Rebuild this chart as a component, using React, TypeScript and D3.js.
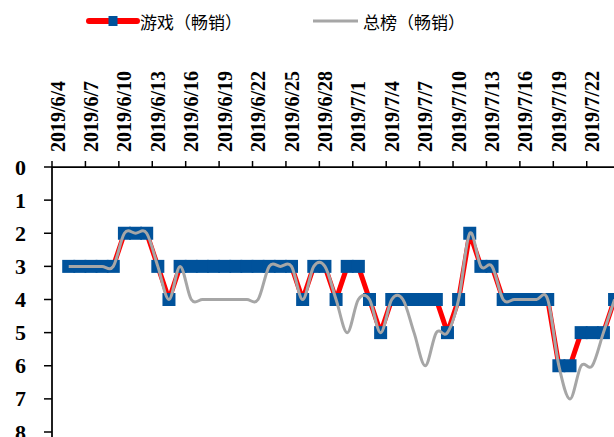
import { useMemo } from "react";
import { scaleBand, scaleLinear, line, curveCardinal, curveLinear, timeDay, timeFormat } from "d3";

//
// categories: every day 2019/6/4 .. 2019/7/24
const DATES = timeDay
  .range(new Date(2019, 5, 4), new Date(2019, 6, 25))
  .map(timeFormat("%Y/%-m/%-d"));
// label every 3rd day
const TICK_LABELS = DATES.filter((_, i) => i % 3 === 0);
const Y_TICKS = [0, 1, 2, 3, 4, 5, 6, 7, 8];

// 游戏（畅销） rank
const GAME = [
  null, 3, 3, 3, 3, 3, 2, 2, 2, 3, 4, 3, 3, 3, 3, 3, 3, 3, 3, 3, 3, 3, 4, 3, 3, 4,
  3, 3, 4, 5, 4, 4, 4, 4, 4, 5, 4, 2, 3, 3, 4, 4, 4, 4, 4, 6, 6, 5, 5, 5, 4,
];
// 总榜（畅销） rank
const OVERALL = [
  null, 3, 3, 3, 3, 3, 2, 2, 2, 3, 4, 3, 4, 4, 4, 4, 4, 4, 4, 3, 3, 3, 4, 3, 3, 4,
  5, 4, 4, 5, 4, 4, 5, 6, 5, 5, 4, 2, 3, 3, 4, 4, 4, 4, 4, 6, 7, 6, 6, 5, 4,
];

const LEGEND = ["游戏（畅销）", "总榜（畅销）"];

const W = 614;
const H = 437;
const LEFT = 52;
const TOP = 167;
const BOTTOM = 432;
const DAY = 11.14;

const RED = "#ff0000";
const BLUE = "#00529b";
const GREY = "#a6a6a6";
const MARK = 13;

export default function App() {
  const x = useMemo(
    () => scaleBand<string>().domain(DATES).range([LEFT, LEFT + DAY * DATES.length]),
    []
  );
  const y = useMemo(() => scaleLinear().domain([0, 8]).range([TOP, BOTTOM]), []);
  const cx = (i: number) => (x(DATES[i]) as number) + x.bandwidth() / 2;

  const gamePts = GAME.map((v, i) => ({ i, v })).filter((d) => d.v != null) as { i: number; v: number }[];
  const allPts = OVERALL.map((v, i) => ({ i, v })).filter((d) => d.v != null) as { i: number; v: number }[];

  const redLine = line<{ i: number; v: number }>()
    .x((d) => cx(d.i))
    .y((d) => y(d.v))
    .curve(curveLinear);
  const greyLine = line<{ i: number; v: number }>()
    .x((d) => cx(d.i))
    .y((d) => y(d.v))
    .curve(curveCardinal.tension(0));

  const axisFont = "'Liberation Serif', 'Times New Roman', serif";
  const cjkFont = "'Noto Sans CJK SC', sans-serif";

  return (
    <svg
      width={W}
      height={H}
      style={{ position: "fixed", left: 0, top: 0, background: "#fff" }}
    >
      {/* legend */}
      <g>
        <line x1={89} x2={137} y1={21} y2={21} stroke={RED} strokeWidth={6} strokeLinecap="round" />
        <rect x={108.5} y={16} width={9} height={10} fill={BLUE} />
        <text x={140} y={21} dominantBaseline="central" fontFamily={cjkFont} fontSize={17} fill="#000">
          {LEGEND[0]}
        </text>
        <line x1={313} x2={358} y1={21} y2={21} stroke={GREY} strokeWidth={3} />
        <text x={363} y={21} dominantBaseline="central" fontFamily={cjkFont} fontSize={17} fill="#000">
          {LEGEND[1]}
        </text>
      </g>

      {/* x axis (top) */}
      <line x1={LEFT} x2={W + 10} y1={TOP} y2={TOP} stroke="#000" strokeWidth={1.75} />
      {TICK_LABELS.map((d) => {
        const bx = x(d) as number;
        const tx = bx + x.bandwidth() / 2;
        return (
          <g key={d}>
            <line x1={bx} x2={bx} y1={TOP} y2={TOP - 6} stroke="#000" strokeWidth={1.5} />
            <text
              transform={`translate(${tx},${TOP - 15}) rotate(-90)`}
              textAnchor="start"
              dominantBaseline="central"
              fontFamily={axisFont}
              fontWeight="bold"
              fontSize={20}
              fill="#000"
            >
              {d}
            </text>
          </g>
        );
      })}

      {/* y axis */}
      <line x1={LEFT} x2={LEFT} y1={TOP} y2={H + 10} stroke="#000" strokeWidth={1.75} />
      {Y_TICKS.map((t) => (
        <g key={t}>
          <line x1={LEFT - 8} x2={LEFT} y1={y(t)} y2={y(t)} stroke="#000" strokeWidth={1.5} />
          <text
            x={26}
            y={y(t)}
            textAnchor="end"
            dominantBaseline="central"
            fontFamily={axisFont}
            fontWeight="bold"
            fontSize={22}
            fill="#000"
          >
            {t}
          </text>
        </g>
      ))}

      {/* game series */}
      <path d={redLine(gamePts) || ""} fill="none" stroke={RED} strokeWidth={5} strokeLinejoin="round" />
      {gamePts.map((d) => (
        <rect
          key={d.i}
          x={cx(d.i) - MARK / 2}
          y={y(d.v) - MARK / 2}
          width={MARK}
          height={MARK}
          fill={BLUE}
        />
      ))}

      {/* overall series */}
      <path d={greyLine(allPts) || ""} fill="none" stroke={GREY} strokeWidth={3} strokeLinejoin="round" />
    </svg>
  );
}
